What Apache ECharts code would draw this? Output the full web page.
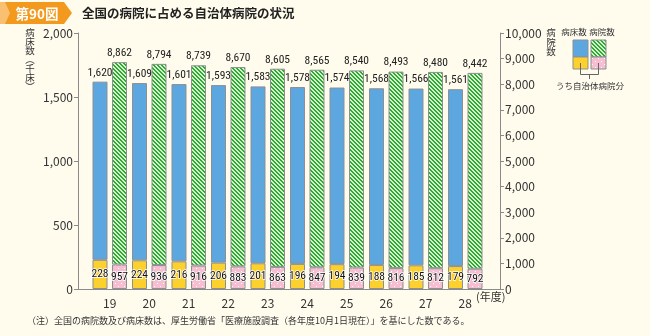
<!DOCTYPE html>
<html>
<head>
<meta charset="utf-8">
<script src="https://cdn.jsdelivr.net/npm/echarts@6/dist/echarts.min.js"></script>
<style>
  html, body { margin: 0; padding: 0; background: #fffcee; }
  #chart { width: 650px; height: 336px; }
</style>
</head>
<body>
<div id="chart"></div>
<script>
// 年度
const years = ['19', '20', '21', '22', '23', '24', '25', '26', '27', '28'];
// 病床数（千床）全国 / うち自治体病院分
const bedsTotal = [1620, 1609, 1601, 1593, 1583, 1578, 1574, 1568, 1566, 1561];
const bedsLocal = [228, 224, 216, 206, 201, 196, 194, 188, 185, 179];
// 病院数 全国 / うち自治体病院分
const hospTotal = [8862, 8794, 8739, 8670, 8605, 8565, 8540, 8493, 8480, 8442];
const hospLocal = [957, 936, 916, 883, 863, 847, 839, 816, 812, 792];
// 目盛
const bedTicks = [0, 500, 1000, 1500, 2000];
const hospTicks = [0, 1000, 2000, 3000, 4000, 5000, 6000, 7000, 8000, 9000, 10000];

const FONT = '"Noto Sans CJK JP", "Noto Sans", sans-serif';
const NUM = '"Liberation Sans Narrow", "Roboto Condensed", "DejaVu Sans Condensed", sans-serif';
const fmt = v => v.toLocaleString('en-US');

const bedsUpper = bedsTotal.map((t, i) => t - bedsLocal[i]);
const hospUpper = hospTotal.map((t, i) => t - hospLocal[i]);

const C = {
  blue: '#5ca7df', yellow: '#fdd12d', edge: '#8d8f93', axis: '#8a8a8a', text: '#333'
};

// 斜線（病院数）
function stripePattern() {
  const n = 4, cv = document.createElement('canvas');
  cv.width = n; cv.height = n;
  const g = cv.getContext('2d');
  g.fillStyle = '#d6f3cc'; g.fillRect(0, 0, n, n);
  g.fillStyle = '#2ea935';
  for (let y = 0; y < n; y++) for (let x = 0; x < n; x++) {
    if (((x - y) % n + n) % n < 2) g.fillRect(x, y, 1, 1);
  }
  return { image: cv, repeat: 'repeat' };
}
// 水玉（うち自治体病院分）
function dotPattern() {
  const n = 6, cv = document.createElement('canvas');
  cv.width = n; cv.height = n;
  const g = cv.getContext('2d');
  g.fillStyle = '#f7bdd0'; g.fillRect(0, 0, n, n);
  g.fillStyle = '#ffffff';
  g.fillRect(1, 1, 1, 1);
  g.fillRect(4, 4, 1, 1);
  return { image: cv, repeat: 'repeat' };
}
const STRIPE = stripePattern();
const DOTS = dotPattern();

const innerLabel = {
  show: true, position: 'inside', color: '#111', fontSize: 11.5,
  fontFamily: NUM, textBorderColor: '#fff', textBorderWidth: 1.5
};
const topLabel = (arr) => ({
  show: true, position: 'top', distance: 3, color: '#222', fontSize: 11.5,
  fontFamily: NUM, formatter: p => fmt(arr[p.dataIndex])
});

const chart = echarts.init(document.getElementById('chart'));
chart.setOption({
  backgroundColor: '#fffcee',
  animation: false,
  textStyle: { fontFamily: FONT },
  grid: [
    { left: 90, right: 165, top: 33, bottom: 47 },
    { left: 78, right: 150, top: 33, bottom: 47 }
  ],
  xAxis: [
    {
      type: 'category', data: years, gridIndex: 0,
      axisLine: { show: false }, axisTick: { show: false },
      axisLabel: { color: C.text, fontSize: 12, margin: 8 }
    },
    {
      type: 'category', data: years, gridIndex: 1,
      axisLine: { show: true, lineStyle: { color: C.axis, width: 1 } },
      axisTick: { show: false }, axisLabel: { show: false }
    }
  ],
  yAxis: [
    {
      type: 'value', gridIndex: 0, position: 'left', offset: 12,
      min: 0, max: 2000, interval: 500,
      axisLine: { show: true, lineStyle: { color: C.axis } },
      axisTick: { show: true, length: 4, lineStyle: { color: C.axis } },
      splitLine: { show: false },
      axisLabel: { color: C.text, fontSize: 12, margin: 5,
        formatter: v => bedTicks.includes(v) ? fmt(v) : '' }
    },
    {
      type: 'value', gridIndex: 0, position: 'right', offset: 15,
      min: 0, max: 10000, interval: 1000,
      axisLine: { show: true, lineStyle: { color: C.axis } },
      axisTick: { show: true, length: 4, lineStyle: { color: C.axis } },
      splitLine: { show: false },
      axisLabel: { color: C.text, fontSize: 12, margin: 5,
        formatter: v => hospTicks.includes(v) ? fmt(v) : '' }
    },
    { type: 'value', gridIndex: 1, show: false, min: 0, max: 1 }
  ],
  series: [
    {
      name: 'うち自治体病院分（病床数）', type: 'bar', stack: 'beds',
      xAxisIndex: 0, yAxisIndex: 0, data: bedsLocal,
      barWidth: 15, barGap: '30%',
      itemStyle: { color: C.yellow, borderColor: C.edge, borderWidth: 1 },
      label: innerLabel
    },
    {
      name: '病床数', type: 'bar', stack: 'beds',
      xAxisIndex: 0, yAxisIndex: 0, data: bedsUpper,
      barWidth: 15,
      itemStyle: { color: C.blue, borderColor: C.edge, borderWidth: 1 },
      label: topLabel(bedsTotal)
    },
    {
      name: 'うち自治体病院分（病院数）', type: 'bar', stack: 'hosp',
      xAxisIndex: 0, yAxisIndex: 1, data: hospLocal,
      barWidth: 15,
      itemStyle: { color: DOTS, borderColor: C.edge, borderWidth: 1 },
      label: innerLabel
    },
    {
      name: '病院数', type: 'bar', stack: 'hosp',
      xAxisIndex: 0, yAxisIndex: 1, data: hospUpper,
      barWidth: 15,
      itemStyle: { color: STRIPE, borderColor: C.edge, borderWidth: 1 },
      label: topLabel(hospTotal)
    }
  ],
  graphic: [
    // 見出し
    { type: 'polygon', shape: { points: [[0, 2], [64, 2], [72, 13], [64, 24], [0, 24]] },
      style: { fill: '#f39a1e' } },
    { type: 'polygon', shape: { points: [[0, 2], [5, 2], [10, 13], [5, 24], [0, 24]] },
      style: { fill: '#f8c070' } },
    { type: 'text', x: 37, y: 13.5, style: { text: '第90図', fill: '#fff', fontSize: 13.5,
      fontWeight: 'bold', fontFamily: FONT, align: 'center', verticalAlign: 'middle' } },
    { type: 'text', x: 82, y: 13.5, style: { text: '全国の病院に占める自治体病院の状況', fill: '#222',
      fontSize: 12.5, fontWeight: 'bold', fontFamily: FONT, verticalAlign: 'middle' } },
    // 軸名
    { type: 'text', x: 30, y: 28, style: { text: '病\n床\n数\n︵\n千\n床\n︶', fill: C.text,
      fontSize: 9.5, lineHeight: 9, fontFamily: FONT, align: 'center' } },
    { type: 'text', x: 551, y: 28, style: { text: '病\n院\n数', fill: C.text,
      fontSize: 9.5, lineHeight: 9.5, fontFamily: FONT, align: 'center' } },
    { type: 'text', x: 476, y: 297, style: { text: '(年度)', fill: C.text,
      fontSize: 11, fontFamily: FONT, verticalAlign: 'middle' } },
    // 凡例
    { type: 'text', x: 574, y: 32, style: { text: '病床数', fill: C.text, fontSize: 8.5,
      fontFamily: FONT, align: 'center', verticalAlign: 'middle' } },
    { type: 'text', x: 602, y: 32, style: { text: '病院数', fill: C.text, fontSize: 8.5,
      fontFamily: FONT, align: 'center', verticalAlign: 'middle' } },
    { type: 'rect', shape: { x: 573, y: 40, width: 15, height: 17 },
      style: { fill: C.blue, stroke: C.edge, lineWidth: 1 } },
    { type: 'rect', shape: { x: 573, y: 57, width: 15, height: 12 },
      style: { fill: C.yellow, stroke: C.edge, lineWidth: 1 } },
    { type: 'rect', shape: { x: 591, y: 40, width: 15, height: 17 },
      style: { fill: STRIPE, stroke: C.edge, lineWidth: 1 } },
    { type: 'rect', shape: { x: 591, y: 57, width: 15, height: 12 },
      style: { fill: DOTS, stroke: C.edge, lineWidth: 1 } },
    { type: 'polyline', shape: { points: [[580.5, 63], [580.5, 74.5], [598.5, 74.5], [598.5, 63]] },
      style: { stroke: '#666', lineWidth: 1, fill: null } },
    { type: 'line', shape: { x1: 589.5, y1: 74.5, x2: 589.5, y2: 79 },
      style: { stroke: '#666', lineWidth: 1 } },
    { type: 'text', x: 590, y: 86, style: { text: 'うち自治体病院分', fill: C.text, fontSize: 8.5,
      fontFamily: FONT, align: 'center', verticalAlign: 'middle' } },
    // 注記
    { type: 'text', x: 27, y: 321, style: {
      text: '（注）全国の病院数及び病床数は、厚生労働省「医療施設調査（各年度10月1日現在）」を基にした数である。',
      fill: '#333', fontSize: 9, fontFamily: FONT, verticalAlign: 'middle' } }
  ]
});
</script>
</body>
</html>
